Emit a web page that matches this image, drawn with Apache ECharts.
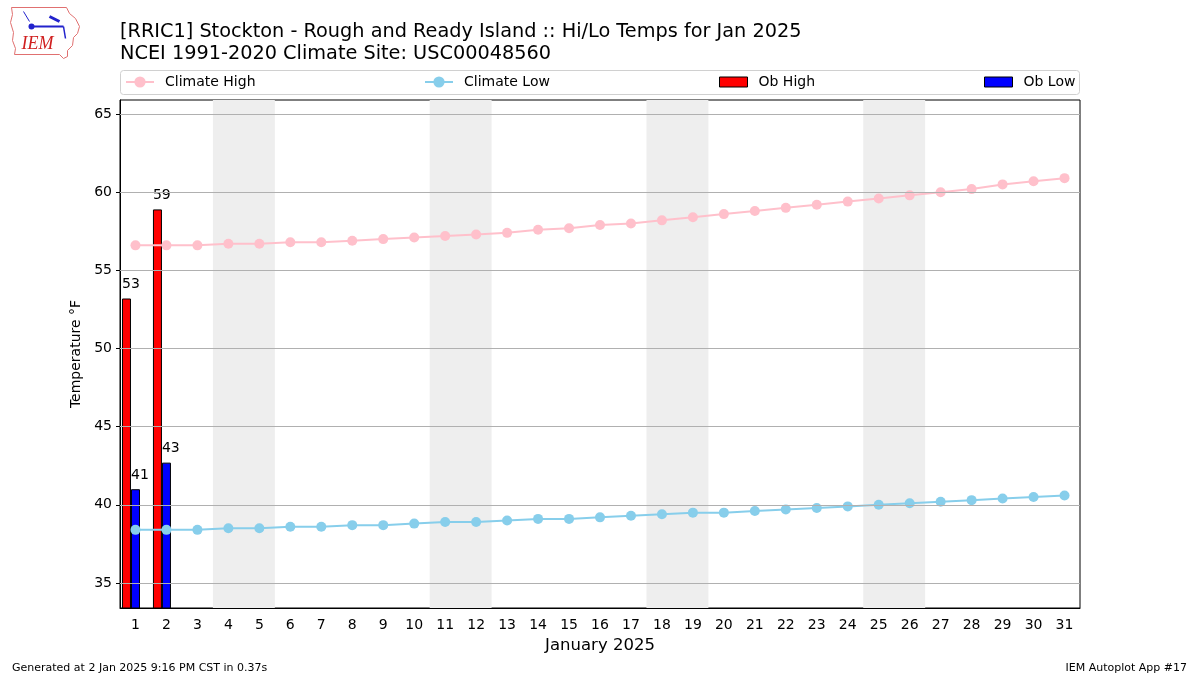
<!DOCTYPE html>
<html>
<head>
<meta charset="utf-8">
<script src="https://cdn.jsdelivr.net/npm/echarts@6/dist/echarts.min.js"></script>
<style>
  html, body { margin: 0; padding: 0; background: #fff; }
  #main { width: 1200px; height: 675px; }
</style>
</head>
<body>
<div id="main"></div>
<script>
// Hi/Lo temps for Jan 2025, RRIC1
var days = [];
for (var d = 1; d <= 31; d++) days.push(String(d));

var climateHigh = [56.6, 56.6, 56.6, 56.7, 56.7, 56.8, 56.8, 56.9, 57.0, 57.1,
  57.2, 57.3, 57.4, 57.6, 57.7, 57.9, 58.0, 58.2, 58.4, 58.6,
  58.8, 59.0, 59.2, 59.4, 59.6, 59.8, 60.0, 60.2, 60.5, 60.7, 60.9];
var climateLow = [38.4, 38.4, 38.4, 38.5, 38.5, 38.6, 38.6, 38.7, 38.7, 38.8,
  38.9, 38.9, 39.0, 39.1, 39.1, 39.2, 39.3, 39.4, 39.5, 39.5,
  39.6, 39.7, 39.8, 39.9, 40.0, 40.1, 40.2, 40.3, 40.4, 40.5, 40.6];
var obHigh = [53.2, 58.9];
var obLow = [41.0, 42.7];
var yTicks = [35, 40, 45, 50, 55, 60, 65];
var saturdays = [4, 11, 18, 25];

var weekendBands = saturdays.map(function (s) {
  return [{ xAxis: s - 0.5 }, { xAxis: s + 1.5 }];
});

var myChart = echarts.init(document.getElementById('main'));
var font = 'DejaVu Sans';

var barLabel = {
  show: true,
  position: 'top',
  align: 'left',
  offset: [-4.5, -2],
  color: '#000',
  fontSize: 14,
  fontFamily: font,
  formatter: function (p) { return Math.round(p.value); }
};

option = {
  animation: false,
  textStyle: { fontFamily: font },
  title: [{
    text: '[RRIC1] Stockton - Rough and Ready Island :: Hi/Lo Temps for Jan 2025\nNCEI 1991-2020 Climate Site: USC00048560',
    left: 115,
    top: 16,
    textStyle: { fontSize: 19.3, fontWeight: 'normal', color: '#000', fontFamily: font, lineHeight: 22 }
  }, {
    text: 'Generated at 2 Jan 2025 9:16 PM CST in 0.37s',
    left: 7,
    top: 658,
    textStyle: { fontSize: 11, fontWeight: 'normal', color: '#000', fontFamily: font }
  }, {
    text: 'IEM Autoplot App #17',
    right: 8,
    top: 658,
    textStyle: { fontSize: 11, fontWeight: 'normal', color: '#000', fontFamily: font }
  }],
  graphic: [{
    type: 'rect',
    shape: { x: 120.5, y: 70.5, width: 959, height: 24, r: 3 },
    style: { fill: '#fff', stroke: '#d0d0d0', lineWidth: 1 },
    z: -1
  }, {
    type: 'group',
    left: 8,
    top: 5,
    children: [{
      type: 'polyline',
      shape: { points: [[2, 2], [57, 2], [60, 8], [66, 13], [70, 21], [68, 28], [64, 32], [63, 40], [58, 45], [58, 51], [54, 53], [50, 49], [5, 49], [6, 43], [3, 35], [4, 27], [1, 17], [3, 9], [2, 2]] },
      style: { stroke: '#e07070', fill: null, lineWidth: 1 }
    }, {
      type: 'line',
      shape: { x1: 22, y1: 21, x2: 54, y2: 21 },
      style: { stroke: '#2222cc', lineWidth: 2 }
    }, {
      type: 'circle',
      shape: { cx: 22, cy: 21, r: 3 },
      style: { fill: '#2222cc' }
    }, {
      type: 'line',
      shape: { x1: 40, y1: 11, x2: 50, y2: 16 },
      style: { stroke: '#2222cc', lineWidth: 3 }
    }, {
      type: 'line',
      shape: { x1: 54, y1: 21, x2: 56, y2: 33 },
      style: { stroke: '#2222cc', lineWidth: 1.5 }
    }, {
      type: 'line',
      shape: { x1: 14, y1: 6, x2: 20, y2: 16 },
      style: { stroke: '#2222cc', lineWidth: 1 }
    }, {
      type: 'text',
      x: 12,
      y: 30,
      style: { text: 'IEM', fill: '#d02020', font: 'italic 18px "Liberation Serif"' }
    }]
  }],
  legend: [{
    data: ['Climate High'], left: 120, top: 70, itemWidth: 28, itemHeight: 14,
    textStyle: { fontSize: 14, color: '#000', fontFamily: font, padding: [0, 0, 0, 6] }
  }, {
    data: ['Climate Low'], left: 419, top: 70, itemWidth: 28, itemHeight: 14,
    textStyle: { fontSize: 14, color: '#000', fontFamily: font, padding: [0, 0, 0, 6] }
  }, {
    data: [{ name: 'Ob High', icon: 'rect' }], left: 714, top: 70, itemWidth: 28, itemHeight: 10,
    itemStyle: { borderColor: '#000', borderWidth: 1 },
    textStyle: { fontSize: 14, color: '#000', fontFamily: font, padding: [0, 0, 0, 6] }
  }, {
    data: [{ name: 'Ob Low', icon: 'rect' }], left: 979, top: 70, itemWidth: 28, itemHeight: 10,
    itemStyle: { borderColor: '#000', borderWidth: 1 },
    textStyle: { fontSize: 14, color: '#000', fontFamily: font, padding: [0, 0, 0, 6] }
  }],
  grid: {
    left: 120,
    right: 120,
    top: 100,
    bottom: 67,
    show: true,
    borderColor: '#000',
    borderWidth: 1,
    backgroundColor: 'transparent'
  },
  xAxis: [{
    type: 'category',
    data: days,
    boundaryGap: true,
    name: 'January 2025',
    nameLocation: 'middle',
    nameGap: 28,
    nameTextStyle: { fontSize: 16.5, color: '#000', fontFamily: font },
    axisLine: { lineStyle: { color: '#000', width: 1 } },
    axisTick: { alignWithLabel: true, length: 4, lineStyle: { color: '#000' } },
    axisLabel: { color: '#000', fontSize: 14, fontFamily: font, margin: 10, interval: 0 },
    splitLine: { show: false }
  }, {
    type: 'value',
    min: 0.5,
    max: 31.5,
    show: false,
    splitLine: { show: false }
  }],
  yAxis: {
    type: 'value',
    min: 33.4,
    max: 65.9,
    name: 'Temperature \u00b0F',
    nameLocation: 'middle',
    nameGap: 37,
    nameTextStyle: { fontSize: 14, color: '#000', fontFamily: font },
    axisLine: { show: true, lineStyle: { color: '#000', width: 1 } },
    axisTick: { show: true, length: 4, customValues: yTicks, lineStyle: { color: '#000' } },
    axisLabel: { color: '#000', fontSize: 14, fontFamily: font, margin: 8, customValues: yTicks },
    splitLine: { show: false }
  },
  series: [{
    name: 'weekend',
    type: 'line',
    xAxisIndex: 1,
    data: [],
    silent: true,
    z: 0,
    markArea: {
      silent: true,
      itemStyle: { color: '#eeeeee' },
      data: weekendBands
    },
    markLine: {
      silent: true,
      symbol: 'none',
      label: { show: false },
      lineStyle: { color: '#b0b0b0', type: 'solid', width: 1 },
      data: yTicks.map(function (v) { return { yAxis: v }; })
    }
  }, {
    name: 'Ob High',
    type: 'bar',
    data: obHigh,
    barWidth: 9,
    barGap: '0%',
    itemStyle: { color: '#ff0000', borderColor: '#000', borderWidth: 1 },
    label: barLabel,
    z: 2
  }, {
    name: 'Ob Low',
    type: 'bar',
    data: obLow,
    barWidth: 9,
    barGap: '0%',
    itemStyle: { color: '#0000ff', borderColor: '#000', borderWidth: 1 },
    label: barLabel,
    z: 2
  }, {
    // empty slot so the high/low pair sits left of the day centre
    name: 'spacer',
    type: 'bar',
    data: [],
    barWidth: 9,
    barGap: '0%',
    silent: true
  }, {
    name: 'Climate High',
    type: 'line',
    data: climateHigh,
    symbol: 'circle',
    symbolSize: 10,
    lineStyle: { color: '#ffc0cb', width: 2 },
    itemStyle: { color: '#ffc0cb' },
    z: 3
  }, {
    name: 'Climate Low',
    type: 'line',
    data: climateLow,
    symbol: 'circle',
    symbolSize: 10,
    lineStyle: { color: '#87ceeb', width: 2 },
    itemStyle: { color: '#87ceeb' },
    z: 3
  }]
};

myChart.setOption(option);
window.addEventListener('resize', function () {
  myChart.resize();
});
</script>
</body>
</html>
